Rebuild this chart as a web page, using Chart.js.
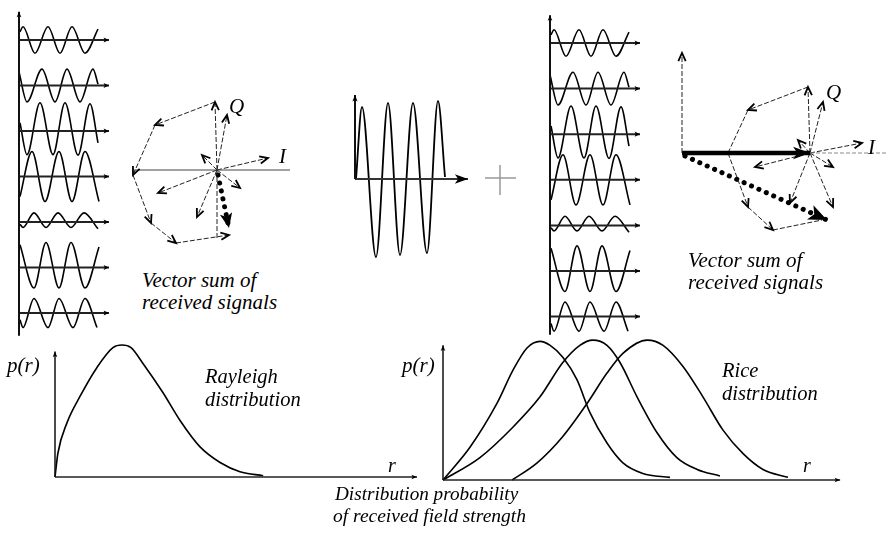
<!DOCTYPE html>
<html><head><meta charset="utf-8">
<script src="https://cdn.jsdelivr.net/npm/chart.js@4.4.0/dist/chart.umd.min.js"></script>
<style>
html,body{margin:0;padding:0;background:#fff;}
#stage{position:relative;width:887px;height:537px;overflow:hidden;background:#fff;}
.lbl{position:absolute;font-family:"Liberation Serif","Tinos","Times New Roman","DejaVu Serif",serif;font-style:italic;color:#000;white-space:nowrap;}
</style></head><body><div id="stage"></div>
<script>
// ---------------- DATA ----------------
// Received multipath signals: extrema (time, amplitude in row units)
const waveT = [
  [1,4,16,29,41,53,66,79],
  [0,8,23,36,48,61,74,79],
  [1,8,21,34,46,59,71,79],
  [1,13,26,40,53,66,80],
  [1,4,15,27,39,52,65,79],
  [1,15,27,40,52,66,80],
  [1,4,15,29,40,54,66,78]
];
const waveV = [
  [0.18,0.29,-0.29,0.29,-0.29,0.29,-0.29,0.24],
  [0.30,-0.36,0.36,-0.36,0.36,-0.36,0.36,0.03],
  [0.18,-0.52,0.62,-0.52,0.62,-0.53,0.60,-0.26],
  [-0.44,0.55,-0.55,0.55,-0.55,0.55,-0.55],
  [-0.05,-0.12,0.20,-0.12,0.20,-0.12,0.20,-0.15],
  [0.50,-0.45,0.55,-0.45,0.55,-0.45,0.45],
  [-0.15,-0.32,0.32,-0.32,0.32,-0.32,0.32,-0.32]
];
// Direct (line-of-sight) signal
const losT = [1,7,21,33,45,58,72,83,90];
const losV = [0,72,-78,76,-76,76,-74,78,2];

// Left phasor diagram (I, Q)
const leftStar  = [[-2,68],[-59,-23],[-20,-47],[-15,15],[51,12],[23,-18],[10,55]];
const leftChain = [[-2,68],[-62,45],[-84,-5],[-66,-53],[-41,-73],[12,-65]];
const leftSum   = [12,-58];

// Right phasor diagram (I, Q)
const rightLos   = [128,0];
const rightStar  = [[126,66],[141,51],[73,-14],[108,-50],[151,-54],[151,-14],[116,13],[180,10]];
const rightChainA = [[46,0],[66,43]];
const rightChainB = [[126,66],[66,43]];
const rightChainC = [[46,0],[66,-54],[91,-77]];
const rightChainD = [[91,-77],[140,-67]];
const rightSum   = [145,-67];

// Rayleigh distribution
const rayR = [0,0.08,0.33,0.69,1.16,1.6,1.85,2.1,2.43,2.98,3.45,4.0,4.56,5.11,5.75];
const rayP = [0,0.18,0.41,0.61,0.83,0.98,1.0,0.98,0.86,0.64,0.43,0.23,0.11,0.04,0.01];
// Rice distributions
const riceR1 = [0,0.75,1.49,1.93,2.32,2.68,2.96,3.31,3.7,4.06,4.53,4.97,5.52,6.27];
const riceP1 = [0,0.25,0.58,0.83,1.0,1.05,1.02,0.93,0.76,0.51,0.28,0.13,0.05,0.02];
const riceR2 = [0,1.02,1.93,2.68,3.31,3.78,4.14,4.53,4.89,5.36,5.91,6.46,7.02,7.65];
const riceP2 = [0,0.17,0.40,0.63,0.89,1.02,1.06,1.02,0.89,0.63,0.36,0.17,0.08,0.03];
const riceR3 = [1.91,2.6,3.31,3.98,4.53,4.97,5.64,6.08,6.63,7.18,7.73,8.29,8.84,9.53];
const riceP3 = [0,0.13,0.33,0.58,0.81,0.96,1.06,1.02,0.86,0.63,0.38,0.20,0.08,0.02];

// Texts
const labelTexts = ['Vector sum of','received signals','Vector sum of','received signals',
  'Q','I','Q','I','p(r)','Rayleigh','distribution','r','p(r)','Rice','distribution','r',
  'Distribution probability','of received field strength'];

// ---------------- LAYOUT / STYLE ----------------
const stage = document.getElementById('stage');

const arrowPlugin = {
  id:'arrowheads',
  afterDatasetsDraw(chart){
    const ctx = chart.ctx;
    chart.data.datasets.forEach((ds,i)=>{
      if(!ds.arrow) return;
      const pts = chart.getDatasetMeta(i).data;
      const n = pts.length;
      const a = pts[n-2], b = pts[n-1];
      const ang = Math.atan2(b.y-a.y, b.x-a.x);
      const A = ds.arrow;
      ctx.save();
      ctx.setLineDash([]);
      ctx.strokeStyle = ctx.fillStyle = A.color || '#000';
      ctx.lineWidth = A.width || 1.8;
      ctx.lineJoin = 'miter'; ctx.lineCap='butt';
      const p1 = {x:b.x - A.len*Math.cos(ang-A.spread), y:b.y - A.len*Math.sin(ang-A.spread)};
      const p2 = {x:b.x - A.len*Math.cos(ang+A.spread), y:b.y - A.len*Math.sin(ang+A.spread)};
      ctx.beginPath();
      ctx.moveTo(p1.x,p1.y); ctx.lineTo(b.x,b.y); ctx.lineTo(p2.x,p2.y);
      if(A.filled){
        const m = {x:b.x - A.len*0.7*Math.cos(ang), y:b.y - A.len*0.7*Math.sin(ang)};
        ctx.lineTo(m.x,m.y); ctx.closePath(); ctx.fill();
      } else ctx.stroke();
      ctx.restore();
    });
  }
};

function line(points, o){
  return Object.assign({
    data: points.map(p=>({x:p[0], y:p[1]})),
    showLine:true, pointRadius:0, pointHoverRadius:0, borderColor:'#000',
    borderWidth:1.5, fill:false, clip:false, tension:0
  }, o||{});
}
function zip(xs, ys){ return xs.map((x,i)=>[x, ys[i]]); }

function panel(box, origin, unit, datasets){
  const c = document.createElement('canvas');
  c.width = box.w; c.height = box.h;
  Object.assign(c.style, {position:'absolute', left:box.x+'px', top:box.y+'px', width:box.w+'px', height:box.h+'px'});
  stage.appendChild(c);
  const xmin = (box.x-origin.x)/unit.x, xmax = (box.x+box.w-origin.x)/unit.x;
  const ymax = (origin.y-box.y)/unit.y, ymin = (origin.y-box.y-box.h)/unit.y;
  return new Chart(c, {
    type:'scatter',
    data:{datasets},
    options:{
      responsive:false, animation:false, devicePixelRatio:1, events:[],
      layout:{padding:0},
      plugins:{legend:{display:false}, tooltip:{enabled:false}},
      scales:{
        x:{type:'linear', display:false, min:xmin, max:xmax},
        y:{type:'linear', display:false, min:ymin, max:ymax}
      }
    },
    plugins:[arrowPlugin]
  });
}

const thinVec = {borderColor:'#222', borderWidth:1, borderDash:[5,2]};
const openHead = {len:9, spread:0.42, width:1.8};
const axisHead = {len:7, spread:0.38, filled:true};

// ---- wave panels ----
function wavePanel(box, origin, rowPx, axisTop, axisBottom){
  const ds = [];
  ds.push(line([[0,axisBottom],[0,axisTop]], {borderColor:'#111', borderWidth:2, arrow:{len:6,spread:0.4,filled:true}}));
  for(let k=0;k<waveT.length;k++){
    ds.push(line([[0,-k],[90,-k]], {borderColor:'#222', borderWidth:2, arrow:{len:6,spread:0.45,filled:true}}));
    ds.push(line(zip(waveT[k], waveV[k].map(v=>v-k)), {borderWidth:1.6, cubicInterpolationMode:'monotone'}));
  }
  panel(box, origin, {x:1, y:rowPx}, ds);
}
wavePanel({x:5,y:0,w:115,h:345}, {x:19,y:40}, 45.5, 0.62, -6.5);
wavePanel({x:536,y:0,w:115,h:345}, {x:550,y:43}, 45.6, 0.61, -6.4);

// ---- middle direct signal + plus sign ----
panel({x:340,y:85,w:190,h:185}, {x:355,y:179}, {x:1,y:1}, [
  line([[0,0],[0,84]], {borderColor:'#111', borderWidth:2, arrow:axisHead}),
  line([[0,0],[113,0]], {borderColor:'#333', borderWidth:2, arrow:{len:14,spread:0.35,filled:true}}),
  line(zip(losT, losV), {borderWidth:1.8, cubicInterpolationMode:'monotone'}),
  line([[130,1],[161,1]], {borderColor:'#999', borderWidth:1.5}),
  line([[145,14],[145,-16]], {borderColor:'#999', borderWidth:1.5})
]);

// ---- left phasor diagram ----
(function(){
  const ds = [];
  ds.push(line([[-84,0],[73,0]], {borderColor:'#444', borderWidth:1}));
  ds.push(line([[0,0],[0,-70]], thinVec));
  leftStar.forEach(p=>ds.push(line([[0,0],p], Object.assign({arrow:openHead}, thinVec))));
  for(let i=1;i<leftChain.length;i++) ds.push(line([leftChain[i-1], leftChain[i]], Object.assign({arrow:openHead}, thinVec)));
  ds.push(line([[1,-5],leftSum], {borderWidth:5, borderDash:[0.1,8], borderCapStyle:'round', arrow:{len:16,spread:0.4,filled:true}}));
  panel({x:120,y:85,w:185,h:170}, {x:217,y:170}, {x:1,y:1}, ds);
})();

// ---- right phasor diagram ----
(function(){
  const C = rightLos;
  const ds = [];
  ds.push(line([[0,0],[0,100]], Object.assign({arrow:openHead}, thinVec)));
  ds.push(line([C,[205,0]], {borderColor:'#888', borderWidth:1, borderDash:[4,2]}));
  ds.push(line([[0,0],C], {borderWidth:4.5, arrow:{len:18,spread:0.35,filled:true}}));
  rightStar.forEach(p=>ds.push(line([C,p], Object.assign({arrow:openHead}, thinVec))));
  ds.push(line(rightChainA, thinVec));
  ds.push(line(rightChainB, Object.assign({arrow:openHead}, thinVec)));
  ds.push(line(rightChainC.slice(0,2), Object.assign({arrow:openHead}, thinVec)));
  ds.push(line(rightChainC.slice(1,3), Object.assign({arrow:openHead}, thinVec)));
  ds.push(line(rightChainD, thinVec));
  ds.push(line([[3,-3],rightSum], {borderWidth:5, borderDash:[0.1,8], borderCapStyle:'round', arrow:{len:20,spread:0.4,filled:true}}));
  panel({x:655,y:40,w:232,h:215}, {x:682,y:153}, {x:1,y:1}, ds);
})();

// ---- Rayleigh ----
panel({x:40,y:335,w:390,h:160}, {x:55,y:477}, {x:36.2,y:132}, [
  line([[0,0],[0,0.95]], {borderColor:'#111', borderWidth:1.5, arrow:{len:6,spread:0.4,filled:true}}),
  line([[0,0],[10,0]], {borderColor:'#222', borderWidth:1.5, arrow:{len:6,spread:0.4,filled:true}}),
  line(zip(rayR, rayP), {borderWidth:1.6, cubicInterpolationMode:'monotone'})
]);

// ---- Rice ----
panel({x:430,y:330,w:430,h:165}, {x:443,y:480}, {x:36.2,y:132}, [
  line([[0,0],[0,1.02]], {borderColor:'#111', borderWidth:1.5, arrow:{len:6,spread:0.4,filled:true}}),
  line([[0,0],[10.97,0]], {borderColor:'#222', borderWidth:1.5, arrow:{len:6,spread:0.4,filled:true}}),
  line(zip(riceR1, riceP1), {borderWidth:1.6, cubicInterpolationMode:'monotone'}),
  line(zip(riceR2, riceP2), {borderWidth:1.6, cubicInterpolationMode:'monotone'}),
  line(zip(riceR3, riceP3), {borderWidth:1.6, cubicInterpolationMode:'monotone'})
]);

// ---- labels ----
const labelPos = [[142,288,21],[142,310,21],[688,268,21],[688,290,21],
  [229,114,21],[279,164,21],[826,100,21],[868,155,21],
  [7,373,21],[205,383,20.5],[205,406,20.5],[388,472,20],
  [402,373,21],[722,377,20.5],[722,400,20.5],[803,472,20],
  [335,500,19.2],[333,522,19.5]];
labelTexts.forEach((t,i)=>{
  const [x,b,s] = labelPos[i];
  const d = document.createElement('div');
  d.className='lbl';
  d.textContent = t;
  Object.assign(d.style, {left:x+'px', top:(b-0.8375*s)+'px', fontSize:s+'px', lineHeight:s+'px'});
  stage.appendChild(d);
});
</script>
</body></html>
